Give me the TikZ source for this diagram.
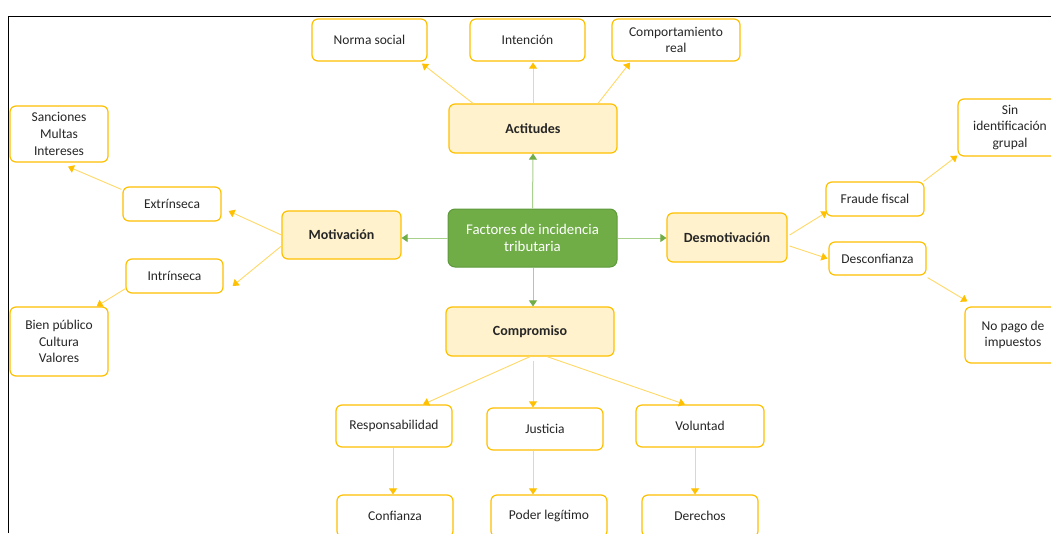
\documentclass[tikz,border=0pt]{standalone}
\usepackage{fontspec}
\setmainfont{Carlito}
\usetikzlibrary{arrows.meta,calc}
\definecolor{gold}{HTML}{FFC000}
\definecolor{lightfill}{HTML}{FFF2CC}
\definecolor{yline}{HTML}{FFD966}
\definecolor{gfill}{HTML}{70AD47}
\definecolor{gborder}{HTML}{5E9A3C}
\definecolor{gline}{HTML}{A9D18E}
\definecolor{txt}{HTML}{262626}
\tikzset{
  box/.style={draw=gold, line width=1.2pt, rounded corners=6pt, fill=white, align=center,
    inner sep=0pt, text=txt, font=\fontsize{13.5}{16.6}\selectfont},
  mainbox/.style={box, fill=lightfill, font=\fontsize{14}{16.6}\selectfont\bfseries},
  centerbox/.style={draw=gborder, line width=1pt, rounded corners=7pt, fill=gfill, align=center,
    inner sep=0pt, text=white, font=\fontsize{14.8}{17.3}\selectfont},
  yarr/.style={draw=yline, line width=0.9pt, -{Triangle[width=8pt,length=6pt,color=gold]}},
  garr/.style={draw=gline, line width=1pt, -{Triangle[width=8pt,length=6pt,color=gfill]}},
}
\begin{document}
\begin{tikzpicture}[x=1pt,y=-1pt]
\useasboundingbox (0,0) rectangle (1051,533);
\clip (0,0) rectangle (1051,533);
\fill[white] (0,0) rectangle (1051,533);
% frame
\draw[black, line width=1.6pt] (8.5,533) -- (8.5,16.5) -- (1051,16.5);
% nodes
\node[box, minimum width=115pt, minimum height=42pt] (ns) at (369.5,40) {Norma social};
\node[box, minimum width=115pt, minimum height=42pt] (int) at (527.5,40) {Intención};
\node[box, minimum width=128pt, minimum height=42pt] (cr) at (676,40) {Comportamiento\\real};
\node[mainbox, minimum width=168pt, minimum height=49pt] (act) at (533,128.5) {Actitudes};
\node[centerbox, minimum width=169pt, minimum height=58pt] (fac) at (532.5,238) {Factores de incidencia\\tributaria};
\node[mainbox, minimum width=119pt, minimum height=48pt] (mot) at (341.5,235) {Motivación};
\node[box, minimum width=98pt, minimum height=34pt] (ext) at (172,204) {Extrínseca};
\node[box, minimum width=97pt, minimum height=34pt] (intr) at (174.5,276) {Intrínseca};
\node[box, minimum width=98pt, minimum height=56pt] (san) at (59,134) {Sanciones\\Multas\\Intereses};
\node[box, minimum width=98pt, minimum height=69pt] (bien) at (59,341.5) {Bien público\\Cultura\\Valores};
\node[mainbox, minimum width=120pt, minimum height=49pt] (des) at (727,237.5) {Desmotivación};
\node[box, minimum width=98pt, minimum height=34pt] (ff) at (875,199) {Fraude fiscal};
\node[box, minimum width=97pt, minimum height=33pt] (dc) at (877.5,258.5) {Desconfianza};
\node[box, minimum width=104pt, minimum height=57pt] (sin) at (1010,127.5) {Sin\\identificación\\grupal};
\node[box, minimum width=96pt, minimum height=56pt] (np) at (1013,335) {No pago de\\impuestos};
\node[mainbox, minimum width=168pt, minimum height=49pt] (com) at (530,331.5) {Compromiso};
\node[box, minimum width=116pt, minimum height=42pt] (resp) at (394,426) {Responsabilidad};
\node[box, minimum width=116pt, minimum height=42pt] (jus) at (545,429) {Justicia};
\node[box, minimum width=128pt, minimum height=42pt] (vol) at (700,426) {Voluntad};
\node[box, minimum width=116pt, minimum height=42pt] (conf) at (395,516) {Confianza};
\node[box, minimum width=116pt, minimum height=42pt] (pod) at (549,516) {Poder legítimo};
\node[box, minimum width=116pt, minimum height=42pt] (der) at (700,516) {Derechos};
% green connectors
\draw[garr] (fac.north) -- (act.south);
\draw[garr] (fac.west) -- (fac.west -| mot.east);
\draw[garr] (fac.east) -- (fac.east -| des.west);
\draw[garr] ([xshift=0.5pt]fac.south) -- ([xshift=0.5pt]fac.south |- com.north);
% top
\draw[yarr] ([xshift=-60pt]act.north) -- ([xshift=52.5pt,yshift=-2pt]ns.south);
\draw[yarr] (act.north) -- ([xshift=5.5pt,yshift=-1pt]int.south);
\draw[yarr] ([xshift=65pt]act.north) -- ([xshift=-46pt,yshift=-1pt]cr.south);
% left
\draw[yarr] (mot.west) -- ([xshift=7pt,yshift=-7pt]ext.east);
\draw[yarr] ([yshift=-11pt]mot.west) -- ([xshift=9pt,yshift=-10pt]intr.east);
\draw[yarr] ([xshift=-1pt,yshift=-3pt]ext.north west) -- ([xshift=9pt,yshift=-4pt]san.south);
\draw[yarr] ([yshift=5pt]intr.south west) -- ([xshift=-12pt]bien.north east);
% right
\draw[yarr] ([xshift=2pt,yshift=2.5pt]des.east) -- ([xshift=2pt,yshift=5pt]ff.south west);
\draw[yarr] ([xshift=2pt,yshift=-8.5pt]des.east) -- ([xshift=-1pt]dc.west);
\draw[yarr] ([xshift=-1pt]ff.north east) -- ([yshift=1pt]sin.south west);
\draw[yarr] ([xshift=1pt,yshift=-2pt]dc.south east) -- ([xshift=3pt,yshift=5pt]np.north west);
% bottom
\draw[yarr] (com.south) -- ([xshift=29pt]resp.north);
\draw[yarr] ([xshift=3pt,yshift=-4pt]com.south) -- ([xshift=-12pt]jus.north);
\draw[yarr] ([xshift=17pt]com.south) -- ([xshift=-15pt]vol.north);
\draw[yarr] ([xshift=-1pt]resp.south) -- ([xshift=-1pt]resp.south |- conf.north);
\draw[yarr] ([xshift=-12pt]jus.south) -- ([xshift=-12pt]jus.south |- pod.north);
\draw[yarr] ([xshift=-5pt]vol.south) -- ([xshift=-5pt]vol.south |- der.north);
\end{tikzpicture}
\end{document}
